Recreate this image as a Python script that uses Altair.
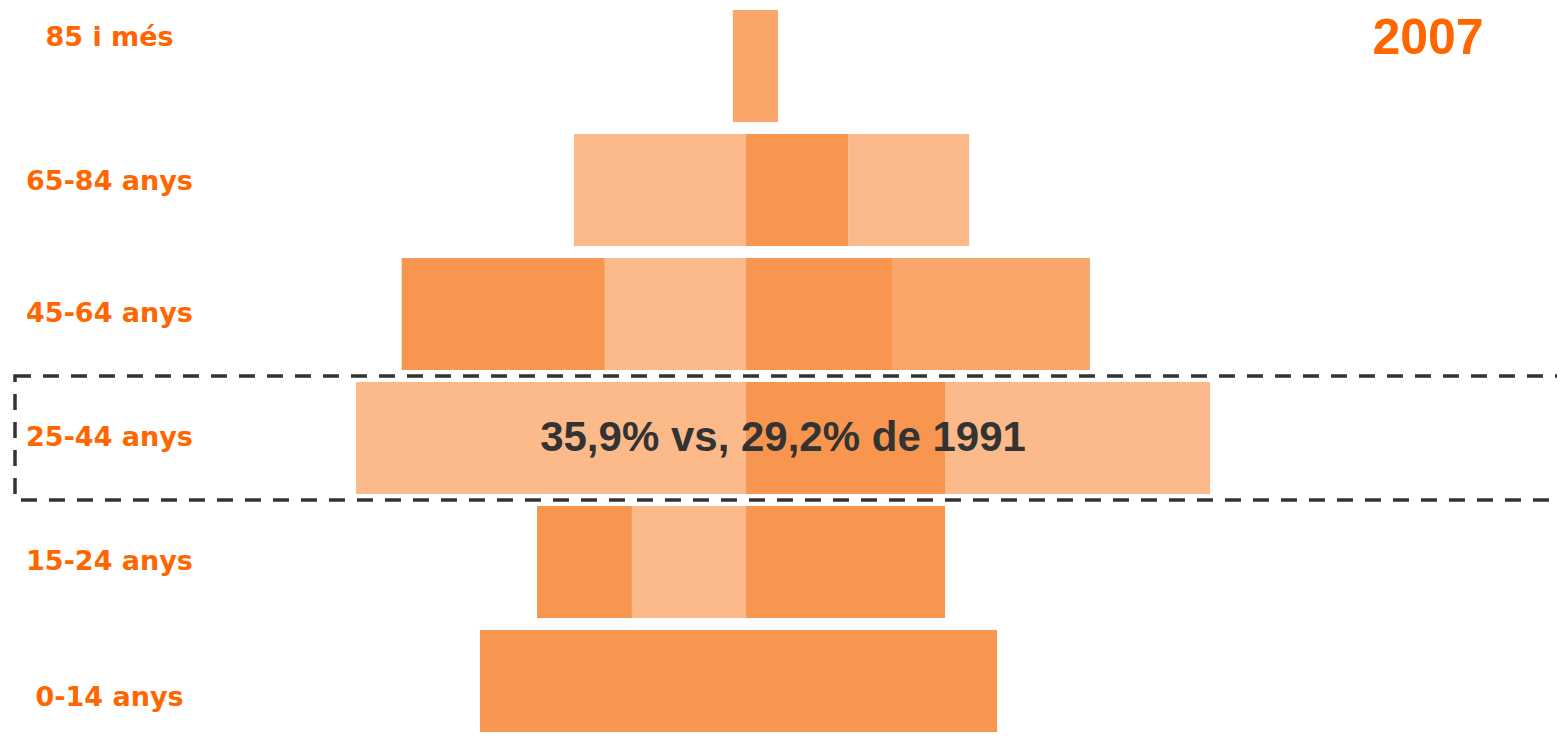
import altair as alt
import pandas as pd

# Age groups, top to bottom
grups = ["85 i més", "65-84 anys", "45-64 anys", "25-44 anys", "15-24 anys", "0-14 anys"]

# Segment sizes (% of population), from the centre outwards
homes = [[0.45], [5.91], [4.85, 6.98], [13.40], [3.92, 3.26], [9.14]]
homes_to = [["mig"], ["clar"], ["clar", "fosc"], ["clar"], ["clar", "fosc"], ["fosc"]]
dones = [[1.10], [3.51, 4.16], [5.02, 6.80], [6.84, 9.11], [6.84], [8.63]]
dones_to = [["mig"], ["fosc", "clar"], ["fosc", "mig"], ["fosc", "clar"], ["fosc"], ["fosc"]]

tons = ["fosc", "mig", "clar"]
colors_to = ["#F8964F", "#FAA66B", "#FCBA8A"]

any_text = "2007"
nota = "35,9% vs, 29,2% de 1991"
grup_nota = "25-44 anys"

rows = []
for g, segs, tones in zip(grups, homes, homes_to):
    s = 0.0
    for v, t in zip(segs, tones):
        rows.append({"grup": g, "x0": -s, "x1": -(s + v), "to": t, "sexe": "Homes"})
        s += v
for g, segs, tones in zip(grups, dones, dones_to):
    s = 0.0
    for v, t in zip(segs, tones):
        rows.append({"grup": g, "x0": s, "x1": s + v, "to": t, "sexe": "Dones"})
        s += v
df = pd.DataFrame(rows)

ORANGE = "#FF6600"

yenc = alt.Y(
    "grup:N",
    sort=grups,
    scale=alt.Scale(range=[0, 732], paddingInner=0.097, paddingOuter=0),
    axis=alt.Axis(
        title=None,
        domain=False,
        ticks=False,
        tickSize=0,
        grid=False,
        labelFont="DejaVu Sans",
        labelFontWeight="bold",
        labelFontSize=27,
        labelColor=ORANGE,
        labelAlign="center",
        labelBaseline="middle",
        labelPadding=121,
        labelLimit=400,
        labelOffset={
            "condition": [
                {"test": "datum.value === '85 i més'", "value": -28},
                {"test": "datum.value === '0-14 anys'", "value": 12},
                {"test": "datum.value === '65-84 anys'", "value": -8},
            ],
            "value": 0,
        },
    ),
)

bars = alt.Chart(df).mark_bar(stroke=None).encode(
    x=alt.X("x0:Q", scale=alt.Scale(domain=[-17.73, 27.87], nice=False, zero=False), axis=None),
    x2="x1:Q",
    y=yenc,
    color=alt.Color("to:N", scale=alt.Scale(domain=tons, range=colors_to), legend=None),
)

box = alt.Chart(pd.DataFrame({"grup": [grup_nota]})).mark_rect(
    filled=False,
    stroke="#333333",
    strokeWidth=3.5,
    strokeDash=[16, 12],
    height={"band": 1.107},
).encode(
    y=alt.Y("grup:N", sort=grups),
    x=alt.value(-215),
    x2=alt.value(1400),
)

nota_txt = alt.Chart(pd.DataFrame({"grup": [grup_nota], "t": [nota]})).mark_text(
    font="Liberation Sans",
    fontWeight="bold",
    fontSize=42,
    color="#333333",
    align="center",
    baseline="middle",
).encode(
    y=alt.Y("grup:N", sort=grups),
    x=alt.value(553),
    text="t:N",
)

any_txt = alt.Chart(pd.DataFrame({"t": [any_text]})).mark_text(
    font="Liberation Sans",
    fontWeight="bold",
    fontSize=50,
    color=ORANGE,
    align="center",
    baseline="alphabetic",
).encode(
    x=alt.value(1198),
    y=alt.value(44),
    text="t:N",
)

chart = alt.layer(bars, box, nota_txt, any_txt).properties(
    width=1327,
    height=722,
    autosize=alt.AutoSizeParams(type="none"),
    padding={"left": 222, "top": 2, "right": 0, "bottom": 0},
).configure_view(stroke=None)

chart.save("out.html", embed_options={"renderer": "svg", "actions": False})
